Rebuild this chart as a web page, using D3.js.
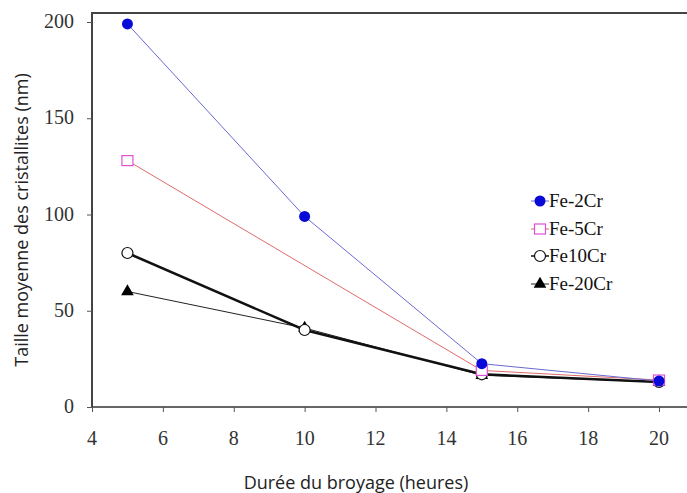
<!DOCTYPE html>
<html><head><meta charset="utf-8">
<script src="https://cdn.jsdelivr.net/npm/d3@7"></script>
<style>body{margin:0;background:#fff}</style>
</head><body>
<svg id="c" width="687" height="493"></svg>
<script>
const xTicks = [4,6,8,10,12,14,16,18,20];
const yTicks = [0,50,100,150,200];
const fe2Cr = [[5,199],[10,99],[15,22.5],[20,13.5]];
const fe5Cr = [[5,128],[15,19],[20,14]];
const fe10Cr = [[5,80],[10,40],[15,17],[20,13]];
const fe20Cr = [[5,60],[10,41],[15,16.5],[20,13]];
const names = ["Fe-2Cr","Fe-5Cr","Fe10Cr","Fe-20Cr"];

const svg = d3.select("#c");
const x = d3.scaleLinear().domain([4,20]).range([92,659]);
const y = d3.scaleLinear().domain([0,200]).range([407,22]);

// frame
svg.append("line").attr("x1",92).attr("x2",687).attr("y1",13).attr("y2",13).attr("stroke","#444").attr("stroke-width",2);
svg.append("line").attr("x1",92).attr("x2",92).attr("y1",12).attr("y2",407).attr("stroke","#444").attr("stroke-width",2);

const fontSerif = "Liberation Serif";
const gx = svg.append("g").attr("transform","translate(0,407)")
  .call(d3.axisBottom(x).tickValues(xTicks).tickSize(5).tickFormat("").tickSizeOuter(0));
gx.select(".domain").attr("d","M92,0H687").attr("stroke","#333").attr("stroke-width",1.5);
gx.selectAll(".tick line").attr("stroke","#555");

const gy = svg.append("g").attr("transform","translate(92,0)")
  .call(d3.axisLeft(y).tickValues(yTicks).tickSize(5).tickFormat("").tickSizeOuter(0));
gy.select(".domain").remove();
gy.selectAll(".tick line").attr("stroke","#555");

svg.append("g").selectAll("text").data(xTicks).join("text")
  .attr("x",d=>x(d)).attr("y",445).attr("text-anchor","middle")
  .style("font-family",fontSerif).style("font-size","20px").style("fill","#333").text(d=>d);
svg.append("g").selectAll("text").data(yTicks).join("text")
  .attr("x",74).attr("y",d=>y(d)+6).attr("text-anchor","end")
  .style("font-family",fontSerif).style("font-size","20px").style("fill","#333").text(d=>d);

const line = d3.line().x(d=>x(d[0])).y(d=>y(d[1]));
const series = [
  {data:fe2Cr, stroke:"#6a6ad0", w:1, marker:"circleFill"},
  {data:fe5Cr, stroke:"#e06a6a", w:1, marker:"square"},
  {data:fe10Cr, stroke:"#111", w:2.5, marker:"circleOpen"},
  {data:fe20Cr, stroke:"#222", w:1, marker:"triangle"}
];
function marker(g, type, cx, cy){
  if(type==="circleFill") g.append("circle").attr("cx",cx).attr("cy",cy).attr("r",5.5).attr("fill","#0a0ad8");
  else if(type==="square") g.append("rect").attr("x",cx-5.5).attr("y",cy-5).attr("width",11).attr("height",10).attr("fill","#fff").attr("stroke","#e050d8").attr("stroke-width",1.2);
  else if(type==="circleOpen") g.append("circle").attr("cx",cx).attr("cy",cy).attr("r",5.5).attr("fill","#fff").attr("stroke","#111").attr("stroke-width",1.2);
  else g.append("path").attr("d",d3.symbol().type(d3.symbolTriangle).size(70)()).attr("transform",`translate(${cx},${cy})`).attr("fill","#000");
}
series.slice().reverse().forEach(s=>{
  svg.append("path").attr("d",line(s.data)).attr("fill","none").attr("stroke",s.stroke).attr("stroke-width",s.w);
});
series.slice().reverse().forEach(s=>{
  const g = svg.append("g");
  s.data.forEach(d=>marker(g,s.marker,x(d[0]),y(d[1])));
});

// legend
const lg = svg.append("g");
const ly = [201,229,256,284];
series.forEach((s,i)=>{
  lg.append("line").attr("x1",531).attr("x2",549).attr("y1",ly[i]).attr("y2",ly[i]).attr("stroke",s.stroke).attr("stroke-width",s.w>2?1.5:1);
  marker(lg,s.marker,540,ly[i]);
  lg.append("text").attr("x",549).attr("y",ly[i]+6).text(names[i])
    .style("font-family",fontSerif).style("font-size","19px").attr("fill","#111");
});

// axis titles
svg.append("text").attr("x",356).attr("y",489).attr("text-anchor","middle")
  .style("font-family","Open Sans").style("font-size","18px").attr("fill","#222")
  .text("Durée du broyage (heures)");
svg.append("text").attr("transform","translate(28,220) rotate(-90)").attr("text-anchor","middle")
  .style("font-family","Open Sans").style("font-size","18px").attr("fill","#222")
  .text("Taille moyenne des cristallites (nm)");
</script>
</body></html>
